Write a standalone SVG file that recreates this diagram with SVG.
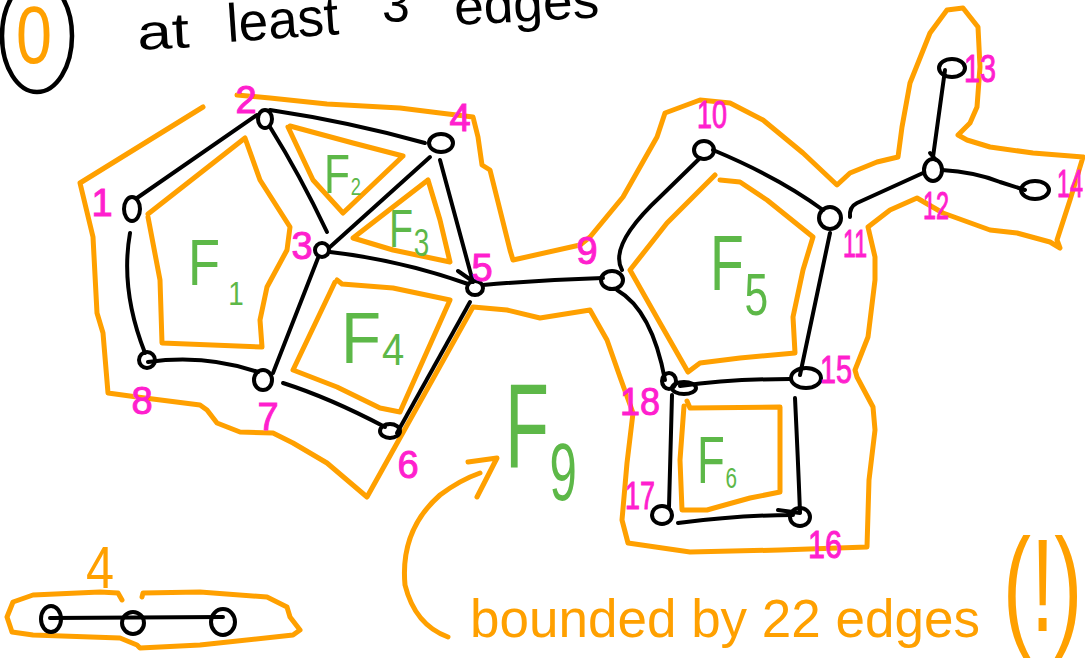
<svg xmlns="http://www.w3.org/2000/svg" width="1085" height="662" viewBox="0 0 1085 662">
  <style>
    .edge { fill: none; stroke: #000; stroke-width: 4; stroke-linecap: round; stroke-linejoin: round; }
    .node { fill: none; stroke: #000; stroke-width: 4; }
    .face { fill: none; stroke: #ffa000; stroke-width: 5; stroke-linecap: round; stroke-linejoin: round; }
    .lbl { fill: #ff1fce; stroke: #ff1fce; stroke-width: 1; font-family: "Liberation Sans", Arial, sans-serif; font-size: 38px; text-anchor: middle; }
    .fname { fill: #5db848; font-family: "Liberation Sans", Arial, sans-serif; }
    .note { fill: #ffa000; font-family: "Liberation Sans", Arial, sans-serif; }
    .head { fill: #000; font-family: "Liberation Sans", Arial, sans-serif; }
  </style>

  <!-- heading: circled zero and "at least 3 edges" (runs off the top) -->
  <g id="heading">
    <ellipse cx="37" cy="36" rx="35" ry="56" fill="none" stroke="#000" stroke-width="4.5"/>
    <text class="note" x="16" y="63" font-size="82" textLength="36" lengthAdjust="spacingAndGlyphs">0</text>
    <text class="head" x="138" y="50" font-size="50" textLength="52" lengthAdjust="spacingAndGlyphs" transform="rotate(-3 138 50)">at</text>
    <text class="head" x="228" y="42" font-size="54" textLength="112" lengthAdjust="spacingAndGlyphs" transform="rotate(-4 228 42)">least</text>
    <text class="head" x="382" y="22" font-size="50">3</text>
    <text class="head" x="455" y="25" font-size="52" textLength="145" lengthAdjust="spacingAndGlyphs" transform="rotate(-3 455 25)">edges</text>
  </g>

  <!-- face boundaries -->
  <g id="faces">
    <!-- F1 -->
    <path class="face" d="M148,214 L245,138 L260,180 L290,227 L287,250 L267,287 L260,320 L262,347 L162,343 L160,280 L148,217"/>
    <!-- F2 -->
    <path class="face" d="M290,126 L353,143 L403,156 L343,213 L313,180 L288,127"/>
    <!-- F3 -->
    <path class="face" d="M428,180 L440,220 L450,262 L393,250 L353,238 L393,207 L428,180"/>
    <!-- F4 -->
    <path class="face" d="M337,280 L342,284 L393,288 L450,300 L400,412 L380,408 L337,387 L293,370 L335,282"/>
    <!-- F5 -->
    <path class="face" d="M720,180 L740,182 L767,200 L813,237 L803,270 L793,317 L795,353 L740,358 L700,363 L688,372 L660,323 L630,270 L667,223 L715,175"/>
    <!-- F6 -->
    <path class="face" d="M687,401 L690,408 L780,407 L780,492 L750,498 L707,510 L682,510 L680,460 L684,406"/>
    <!-- F9: outer boundary -->
    <path class="face" d="M203,107 L80,183 L93,237 L97,313 L103,333 L108,393 L137,397 L200,405 L207,410 L217,423 L240,432 L273,433 L293,443 L327,463 L367,497 L473,307 L507,310 L540,318 L590,310 L607,340 L620,377 L633,413 L627,463 L622,520 L628,543 L690,552 L780,550 L867,547 L869,480 L875,430 L873,407 L857,377 L855,370 L868,337 L875,280 L875,257 L868,227 L890,210 L917,198 L943,213 L990,230 L1017,233 L1050,242 L1060,248 L1057,240 L1070,200 L1083,157 L1033,153 L990,147 L967,140 L958,135 L970,123 L977,107 L980,67 L978,27 L963,8 L947,10 L930,33 L910,83 L902,127 L898,157 L877,162 L850,173 L837,185 L803,153 L763,120 L730,103 L700,100 L665,113 L657,137 L623,197 L590,237 L580,245 L513,260 L510,250 L495,190 L490,170 L482,165 L478,137 L473,117 L440,113 L400,108 L327,104 L270,98 L237,95"/>
    <!-- four-node path -->
    <path class="face" d="M122,600 L118,593 L100,592 L33,595 L13,602 L7,617 L12,632 L33,635 L120,638 L137,645 L140,648 L200,645 L293,635 L300,630 L290,617 L287,607 L267,597 L200,592 L143,593 L142,597"/>
  </g>

  <!-- connectors -->
  <g id="connectors">
    <path class="edge" d="M137,198 L257,115"/>
    <path class="edge" d="M130,233 Q120,290 145,353"/>
    <path class="edge" d="M148,362 Q205,354 258,372"/>
    <path class="edge" d="M270,127 Q300,175 327,232"/>
    <path class="edge" d="M270,110 Q350,122 425,143"/>
    <path class="edge" d="M430,157 L330,247"/>
    <path class="edge" d="M440,160 Q455,215 473,282 M458,271 L471,280"/>
    <path class="edge" d="M330,252 Q400,260 468,284"/>
    <path class="edge" d="M318,258 L273,373"/>
    <path class="edge" d="M283,383 Q330,398 385,427"/>
    <path class="edge" d="M397,433 L470,302"/>
    <path class="edge" d="M483,285 Q540,280 603,278"/>
    <path class="edge" d="M622,270 C612,252 630,225 660,197 L700,158"/>
    <path class="edge" d="M713,150 Q780,178 823,210"/>
    <path class="edge" d="M850,217 Q849,207 857,203 L923,173"/>
    <path class="edge" d="M933,157 L945,70 M930,153 L936,160"/>
    <path class="edge" d="M942,170 Q975,172 1000,182 L1025,190"/>
    <path class="edge" d="M617,290 Q652,310 665,380"/>
    <path class="edge" d="M830,233 L800,375"/>
    <path class="edge" d="M680,386 Q730,379 790,379"/>
    <path class="edge" d="M672,395 L669,507"/>
    <path class="edge" d="M678,523 Q740,515 793,515 M778,510 L800,513"/>
    <path class="edge" d="M795,398 Q798,460 800,512"/>
    <path class="edge" d="M50,618 L223,617"/>
  </g>

  <!-- vertices -->
  <g id="n1"><ellipse class="node" cx="132" cy="209" rx="8" ry="12"/><text class="lbl" x="102" y="216">1</text></g>
  <g id="n2"><ellipse class="node" cx="265" cy="119" rx="7" ry="9"/><text class="lbl" x="246" y="113">2</text></g>
  <g id="n3"><ellipse class="node" cx="322" cy="250" rx="7" ry="7"/><text class="lbl" x="302" y="259">3</text></g>
  <g id="n4"><ellipse class="node" cx="441" cy="143" rx="12" ry="9"/><text class="lbl" x="460" y="131">4</text></g>
  <g id="n5"><ellipse class="node" cx="475" cy="288" rx="8" ry="7"/><text class="lbl" x="482" y="281">5</text></g>
  <g id="n6"><ellipse class="node" cx="390" cy="431" rx="10" ry="7"/><text class="lbl" x="408" y="478">6</text></g>
  <g id="n7"><ellipse class="node" cx="263" cy="380" rx="9" ry="10"/><text class="lbl" x="268" y="430">7</text></g>
  <g id="n8"><ellipse class="node" cx="147" cy="360" rx="8" ry="8"/><text class="lbl" x="142" y="414">8</text></g>
  <g id="n9"><ellipse class="node" cx="612" cy="280" rx="11" ry="9"/><text class="lbl" x="587" y="264">9</text></g>
  <g id="n10"><ellipse class="node" cx="704" cy="150" rx="10" ry="9"/><text class="lbl" x="712" y="128" textLength="30" lengthAdjust="spacingAndGlyphs">10</text></g>
  <g id="n11"><ellipse class="node" cx="830" cy="218" rx="11" ry="11"/><text class="lbl" x="855" y="257" textLength="24" lengthAdjust="spacingAndGlyphs">11</text></g>
  <g id="n12"><ellipse class="node" cx="933" cy="170" rx="9" ry="11"/><text class="lbl" x="936" y="219" textLength="26" lengthAdjust="spacingAndGlyphs">12</text></g>
  <g id="n13"><ellipse class="node" cx="952" cy="68" rx="13" ry="9"/><text class="lbl" x="980" y="82" textLength="32" lengthAdjust="spacingAndGlyphs">13</text></g>
  <g id="n14"><ellipse class="node" cx="1035" cy="190" rx="14" ry="9"/><text class="lbl" x="1070" y="197" textLength="26" lengthAdjust="spacingAndGlyphs">14</text></g>
  <g id="n15"><ellipse class="node" cx="806" cy="378" rx="15" ry="10"/><text class="lbl" x="836" y="383" textLength="32" lengthAdjust="spacingAndGlyphs">15</text></g>
  <g id="n16"><ellipse class="node" cx="800" cy="517" rx="10" ry="9"/><text class="lbl" x="825" y="558" textLength="34" lengthAdjust="spacingAndGlyphs">16</text></g>
  <g id="n17"><ellipse class="node" cx="662" cy="515" rx="10" ry="9"/><text class="lbl" x="640" y="509" textLength="30" lengthAdjust="spacingAndGlyphs">17</text></g>
  <g id="n18"><ellipse class="node" cx="669" cy="381" rx="7" ry="8"/><ellipse class="node" cx="684" cy="388" rx="12" ry="6"/><text class="lbl" x="640" y="415" textLength="40" lengthAdjust="spacingAndGlyphs">18</text></g>
  <g id="p1"><ellipse class="node" cx="51" cy="619" rx="10" ry="13"/></g>
  <g id="p2"><ellipse class="node" cx="133" cy="623" rx="11" ry="11"/></g>
  <g id="p3"><ellipse class="node" cx="223" cy="622" rx="12" ry="13"/></g>

  <!-- face names: a narrowed F with its number as a lowered tspan -->
  <g id="face-names">
    <text class="fname" font-size="64" transform="translate(188 285) scale(0.82 1)">F<tspan font-size="34" dx="10" dy="20">1</tspan></text>
    <text class="fname" font-size="56" transform="translate(324 193) scale(0.76 1)">F<tspan font-size="24" dx="1" dy="2">2</tspan></text>
    <text class="fname" font-size="54" transform="translate(389 247) scale(0.73 1)">F<tspan font-size="38" dx="1" dy="9">3</tspan></text>
    <text class="fname" font-size="72" transform="translate(341 363) scale(0.91 1)">F<tspan font-size="44" dx="1" dy="2">4</tspan></text>
    <text class="fname" font-size="78" transform="translate(710 290) scale(0.71 1)">F<tspan font-size="60" dx="1" dy="25">5</tspan></text>
    <text class="fname" font-size="66" transform="translate(697 483) scale(0.69 1)">F<tspan font-size="30" dx="1" dy="5">6</tspan></text>
    <text class="fname" font-size="120" transform="translate(505 468) scale(0.6 1)">F<tspan font-size="82" dx="1" dy="32">9</tspan></text>
  </g>

  <!-- notes in orange -->
  <g id="notes">
    <text class="note" x="86" y="588" font-size="60" textLength="28" lengthAdjust="spacingAndGlyphs">4</text>
    <path class="face" d="M448,637 Q415,625 405,585 Q400,530 440,495 Q460,480 480,473"/>
    <path class="face" d="M468,462 L497,458 L477,497"/>
    <text class="note" x="470" y="637" font-size="53" textLength="510" lengthAdjust="spacingAndGlyphs">bounded by 22 edges</text>
    <text class="note" font-size="80" transform="translate(1003 631) scale(1.05 1.65)">(!)</text>
  </g>
</svg>
